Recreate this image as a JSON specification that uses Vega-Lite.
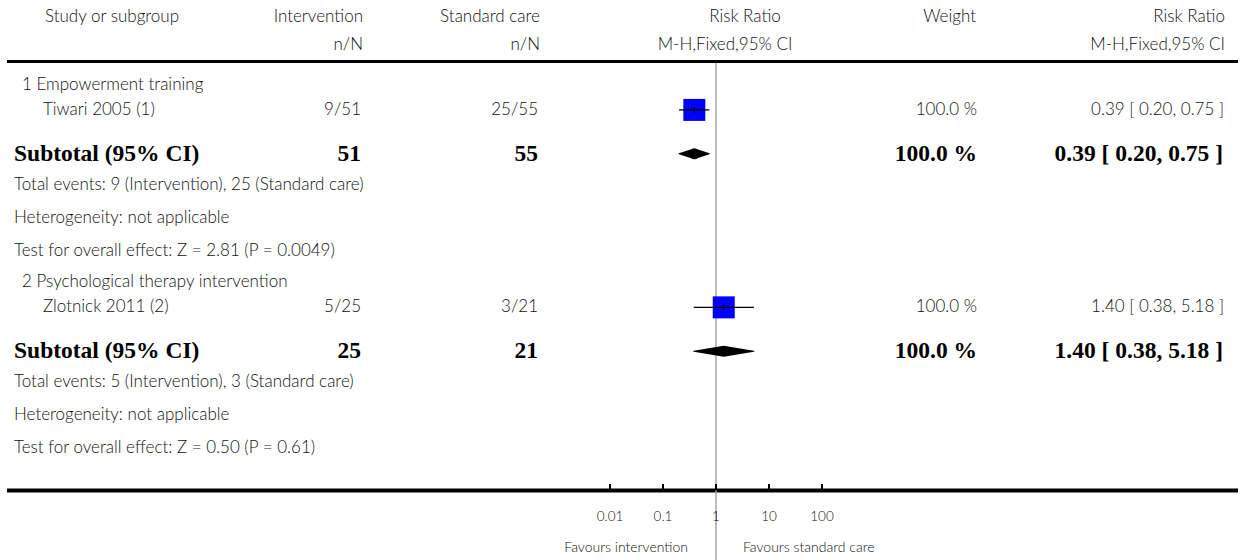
{
  "$schema": "https://vega.github.io/schema/vega-lite/v6.json",
  "width": 1241,
  "height": 560,
  "padding": 0,
  "autosize": {"type": "none"},
  "background": "white",
  "config": {"view": {"stroke": null}},
  "datasets": {
    "head": [
      {"row": 0, "col": "study", "txt": ["Study or subgroup", ""]},
      {"row": 0, "col": "int", "txt": ["Intervention", "n/N"]},
      {"row": 0, "col": "ctrl", "txt": ["Standard care", "n/N"]},
      {"row": 0, "col": "rr1", "txt": ["Risk Ratio", ""]},
      {"row": 0, "col": "rr2", "txt": ["", "M-H,Fixed,95% CI"]},
      {"row": 0, "col": "weight", "txt": ["Weight", ""]},
      {"row": 0, "col": "ci", "txt": ["Risk Ratio", "M-H,Fixed,95% CI"]}
    ],
    "rows": [
      {"row": 1, "kind": "group", "label": "1 Empowerment training"},
      {"row": 2, "kind": "study", "label": "Tiwari 2005 (1)", "int": "9/51", "ctrl": "25/55", "weight": "100.0 %", "ci": "0.39 [ 0.20, 0.75 ]", "rr": 0.39, "lo": 0.20, "hi": 0.75, "w": 100},
      {"row": 3, "kind": "subtotal", "label": "Subtotal (95% CI)", "int": "51", "ctrl": "55", "weight": "100.0 %", "ci": "0.39 [ 0.20, 0.75 ]", "rr": 0.39, "lo": 0.20, "hi": 0.75},
      {"row": 4, "kind": "note", "label": "Total events: 9 (Intervention), 25 (Standard care)"},
      {"row": 5, "kind": "note", "label": "Heterogeneity: not applicable"},
      {"row": 6, "kind": "note", "label": "Test for overall effect: Z = 2.81 (P = 0.0049)"},
      {"row": 7, "kind": "group", "label": "2 Psychological therapy intervention"},
      {"row": 8, "kind": "study", "label": "Zlotnick 2011 (2)", "int": "5/25", "ctrl": "3/21", "weight": "100.0 %", "ci": "1.40 [ 0.38, 5.18 ]", "rr": 1.40, "lo": 0.38, "hi": 5.18, "w": 100},
      {"row": 9, "kind": "subtotal", "label": "Subtotal (95% CI)", "int": "25", "ctrl": "21", "weight": "100.0 %", "ci": "1.40 [ 0.38, 5.18 ]", "rr": 1.40, "lo": 0.38, "hi": 5.18},
      {"row": 10, "kind": "note", "label": "Total events: 5 (Intervention), 3 (Standard care)"},
      {"row": 11, "kind": "note", "label": "Heterogeneity: not applicable"},
      {"row": 12, "kind": "note", "label": "Test for overall effect: Z = 0.50 (P = 0.61)"}
    ],
    "ticks": [
      {"v": 0.01, "lab": "0.01"},
      {"v": 0.1, "lab": "0.1"},
      {"v": 1, "lab": "1"},
      {"v": 10, "lab": "10"},
      {"v": 100, "lab": "100"}
    ],
    "favours": [
      {"side": "left", "txt": "Favours intervention"},
      {"side": "right", "txt": "Favours standard care"}
    ],
    "one": [{}]
  },
  "layer": [
    {
      "layer": [
        {"data": {"name": "one"},
         "mark": {"type": "rule", "color": "#000", "strokeWidth": 3},
         "encoding": {"x": {"datum": 7, "type": "quantitative", "scale": {"domain": [0, 1241], "nice": false, "zero": false}, "axis": null},
                      "x2": {"datum": 1238},
                      "y": {"datum": 0.286, "type": "quantitative", "scale": {"domain": [1, 12], "range": [85, 447], "nice": false, "zero": false}, "axis": null}}},
        {"data": {"name": "one"},
         "mark": {"type": "rule", "color": "#000", "strokeWidth": 4},
         "encoding": {"x": {"datum": 7, "type": "quantitative", "scale": {"domain": [0, 1241], "nice": false, "zero": false}, "axis": null},
                      "x2": {"datum": 1238},
                      "y": {"datum": 13.322, "type": "quantitative", "scale": {"domain": [1, 12], "range": [85, 447], "nice": false, "zero": false}, "axis": null}}},

        {"data": {"name": "head"}, "transform": [{"filter": "datum.col=='study'"}],
         "mark": {"type": "text", "align": "left", "baseline": "middle", "font": "Lato", "fontWeight": 300, "fontSize": 17, "color": "#111", "lineHeight": 28, "dy": -35},
         "encoding": {"x": {"datum": 45, "type": "quantitative", "scale": {"domain": [0, 1241], "nice": false, "zero": false}, "axis": null},
                      "y": {"field": "row", "type": "quantitative", "scale": {"domain": [1, 12], "range": [85, 447], "nice": false, "zero": false}, "axis": null},
                      "text": {"field": "txt"}}},
        {"data": {"name": "head"}, "transform": [{"filter": "datum.col=='int'"}],
         "mark": {"type": "text", "align": "right", "baseline": "middle", "font": "Lato", "fontWeight": 300, "fontSize": 17, "color": "#111", "lineHeight": 28, "dy": -35},
         "encoding": {"x": {"datum": 363, "type": "quantitative", "scale": {"domain": [0, 1241], "nice": false, "zero": false}, "axis": null},
                      "y": {"field": "row", "type": "quantitative", "scale": {"domain": [1, 12], "range": [85, 447], "nice": false, "zero": false}, "axis": null},
                      "text": {"field": "txt"}}},
        {"data": {"name": "head"}, "transform": [{"filter": "datum.col=='ctrl'"}],
         "mark": {"type": "text", "align": "right", "baseline": "middle", "font": "Lato", "fontWeight": 300, "fontSize": 17, "color": "#111", "lineHeight": 28, "dy": -35},
         "encoding": {"x": {"datum": 540, "type": "quantitative", "scale": {"domain": [0, 1241], "nice": false, "zero": false}, "axis": null},
                      "y": {"field": "row", "type": "quantitative", "scale": {"domain": [1, 12], "range": [85, 447], "nice": false, "zero": false}, "axis": null},
                      "text": {"field": "txt"}}},
        {"data": {"name": "head"}, "transform": [{"filter": "datum.col=='rr1'"}],
         "mark": {"type": "text", "align": "center", "baseline": "middle", "font": "Lato", "fontWeight": 300, "fontSize": 17, "color": "#111", "lineHeight": 28, "dy": -35},
         "encoding": {"x": {"datum": 745, "type": "quantitative", "scale": {"domain": [0, 1241], "nice": false, "zero": false}, "axis": null},
                      "y": {"field": "row", "type": "quantitative", "scale": {"domain": [1, 12], "range": [85, 447], "nice": false, "zero": false}, "axis": null},
                      "text": {"field": "txt"}}},
        {"data": {"name": "head"}, "transform": [{"filter": "datum.col=='rr2'"}],
         "mark": {"type": "text", "align": "center", "baseline": "middle", "font": "Lato", "fontWeight": 300, "fontSize": 17, "color": "#111", "lineHeight": 28, "dy": -35},
         "encoding": {"x": {"datum": 725, "type": "quantitative", "scale": {"domain": [0, 1241], "nice": false, "zero": false}, "axis": null},
                      "y": {"field": "row", "type": "quantitative", "scale": {"domain": [1, 12], "range": [85, 447], "nice": false, "zero": false}, "axis": null},
                      "text": {"field": "txt"}}},
        {"data": {"name": "head"}, "transform": [{"filter": "datum.col=='weight'"}],
         "mark": {"type": "text", "align": "right", "baseline": "middle", "font": "Lato", "fontWeight": 300, "fontSize": 17, "color": "#111", "lineHeight": 28, "dy": -35},
         "encoding": {"x": {"datum": 976, "type": "quantitative", "scale": {"domain": [0, 1241], "nice": false, "zero": false}, "axis": null},
                      "y": {"field": "row", "type": "quantitative", "scale": {"domain": [1, 12], "range": [85, 447], "nice": false, "zero": false}, "axis": null},
                      "text": {"field": "txt"}}},
        {"data": {"name": "head"}, "transform": [{"filter": "datum.col=='ci'"}],
         "mark": {"type": "text", "align": "right", "baseline": "middle", "font": "Lato", "fontWeight": 300, "fontSize": 17, "color": "#111", "lineHeight": 28, "dy": -35},
         "encoding": {"x": {"datum": 1225, "type": "quantitative", "scale": {"domain": [0, 1241], "nice": false, "zero": false}, "axis": null},
                      "y": {"field": "row", "type": "quantitative", "scale": {"domain": [1, 12], "range": [85, 447], "nice": false, "zero": false}, "axis": null},
                      "text": {"field": "txt"}}},

        {"data": {"name": "rows"}, "transform": [{"filter": "datum.kind=='group'"}],
         "mark": {"type": "text", "align": "left", "baseline": "middle", "font": "Lato", "fontWeight": 300, "fontSize": 17, "color": "#111", "dy": 0},
         "encoding": {"x": {"datum": 22, "type": "quantitative", "scale": {"domain": [0, 1241], "nice": false, "zero": false}, "axis": null},
                      "y": {"field": "row", "type": "quantitative", "scale": {"domain": [1, 12], "range": [85, 447], "nice": false, "zero": false}, "axis": null},
                      "text": {"field": "label"}}},
        {"data": {"name": "rows"}, "transform": [{"filter": "datum.kind=='study'"}],
         "mark": {"type": "text", "align": "left", "baseline": "middle", "font": "Lato", "fontWeight": 300, "fontSize": 17, "color": "#111", "dy": -8},
         "encoding": {"x": {"datum": 43, "type": "quantitative", "scale": {"domain": [0, 1241], "nice": false, "zero": false}, "axis": null},
                      "y": {"field": "row", "type": "quantitative", "scale": {"domain": [1, 12], "range": [85, 447], "nice": false, "zero": false}, "axis": null},
                      "text": {"field": "label"}}},
        {"data": {"name": "rows"}, "transform": [{"filter": "datum.kind=='study'"}],
         "mark": {"type": "text", "align": "right", "baseline": "middle", "font": "Lato", "fontWeight": 300, "fontSize": 17, "color": "#111", "dy": -8},
         "encoding": {"x": {"datum": 361, "type": "quantitative", "scale": {"domain": [0, 1241], "nice": false, "zero": false}, "axis": null},
                      "y": {"field": "row", "type": "quantitative", "scale": {"domain": [1, 12], "range": [85, 447], "nice": false, "zero": false}, "axis": null},
                      "text": {"field": "int"}}},
        {"data": {"name": "rows"}, "transform": [{"filter": "datum.kind=='study'"}],
         "mark": {"type": "text", "align": "right", "baseline": "middle", "font": "Lato", "fontWeight": 300, "fontSize": 17, "color": "#111", "dy": -8},
         "encoding": {"x": {"datum": 538, "type": "quantitative", "scale": {"domain": [0, 1241], "nice": false, "zero": false}, "axis": null},
                      "y": {"field": "row", "type": "quantitative", "scale": {"domain": [1, 12], "range": [85, 447], "nice": false, "zero": false}, "axis": null},
                      "text": {"field": "ctrl"}}},
        {"data": {"name": "rows"}, "transform": [{"filter": "datum.kind=='study'"}],
         "mark": {"type": "text", "align": "right", "baseline": "middle", "font": "Lato", "fontWeight": 300, "fontSize": 17, "color": "#111", "dy": -8},
         "encoding": {"x": {"datum": 977, "type": "quantitative", "scale": {"domain": [0, 1241], "nice": false, "zero": false}, "axis": null},
                      "y": {"field": "row", "type": "quantitative", "scale": {"domain": [1, 12], "range": [85, 447], "nice": false, "zero": false}, "axis": null},
                      "text": {"field": "weight"}}},
        {"data": {"name": "rows"}, "transform": [{"filter": "datum.kind=='study'"}],
         "mark": {"type": "text", "align": "right", "baseline": "middle", "font": "Lato", "fontWeight": 300, "fontSize": 17, "color": "#111", "dy": -8},
         "encoding": {"x": {"datum": 1224, "type": "quantitative", "scale": {"domain": [0, 1241], "nice": false, "zero": false}, "axis": null},
                      "y": {"field": "row", "type": "quantitative", "scale": {"domain": [1, 12], "range": [85, 447], "nice": false, "zero": false}, "axis": null},
                      "text": {"field": "ci"}}},
        {"data": {"name": "rows"}, "transform": [{"filter": "datum.kind=='note'"}],
         "mark": {"type": "text", "align": "left", "baseline": "middle", "font": "Lato", "fontWeight": 300, "fontSize": 17, "color": "#111", "dy": 1},
         "encoding": {"x": {"datum": 14, "type": "quantitative", "scale": {"domain": [0, 1241], "nice": false, "zero": false}, "axis": null},
                      "y": {"field": "row", "type": "quantitative", "scale": {"domain": [1, 12], "range": [85, 447], "nice": false, "zero": false}, "axis": null},
                      "text": {"field": "label"}}},
        {"data": {"name": "rows"}, "transform": [{"filter": "datum.kind=='subtotal'"}],
         "mark": {"type": "text", "align": "left", "baseline": "middle", "font": "Liberation Serif", "fontWeight": "bold", "fontSize": 23.5, "color": "#000", "dy": 3},
         "encoding": {"x": {"datum": 14, "type": "quantitative", "scale": {"domain": [0, 1241], "nice": false, "zero": false}, "axis": null},
                      "y": {"field": "row", "type": "quantitative", "scale": {"domain": [1, 12], "range": [85, 447], "nice": false, "zero": false}, "axis": null},
                      "text": {"field": "label"}}},
        {"data": {"name": "rows"}, "transform": [{"filter": "datum.kind=='subtotal'"}],
         "mark": {"type": "text", "align": "right", "baseline": "middle", "font": "Liberation Serif", "fontWeight": "bold", "fontSize": 23.5, "color": "#000", "dy": 3},
         "encoding": {"x": {"datum": 361, "type": "quantitative", "scale": {"domain": [0, 1241], "nice": false, "zero": false}, "axis": null},
                      "y": {"field": "row", "type": "quantitative", "scale": {"domain": [1, 12], "range": [85, 447], "nice": false, "zero": false}, "axis": null},
                      "text": {"field": "int"}}},
        {"data": {"name": "rows"}, "transform": [{"filter": "datum.kind=='subtotal'"}],
         "mark": {"type": "text", "align": "right", "baseline": "middle", "font": "Liberation Serif", "fontWeight": "bold", "fontSize": 23.5, "color": "#000", "dy": 3},
         "encoding": {"x": {"datum": 538, "type": "quantitative", "scale": {"domain": [0, 1241], "nice": false, "zero": false}, "axis": null},
                      "y": {"field": "row", "type": "quantitative", "scale": {"domain": [1, 12], "range": [85, 447], "nice": false, "zero": false}, "axis": null},
                      "text": {"field": "ctrl"}}},
        {"data": {"name": "rows"}, "transform": [{"filter": "datum.kind=='subtotal'"}],
         "mark": {"type": "text", "align": "right", "baseline": "middle", "font": "Liberation Serif", "fontWeight": "bold", "fontSize": 23.5, "color": "#000", "dy": 3},
         "encoding": {"x": {"datum": 977, "type": "quantitative", "scale": {"domain": [0, 1241], "nice": false, "zero": false}, "axis": null},
                      "y": {"field": "row", "type": "quantitative", "scale": {"domain": [1, 12], "range": [85, 447], "nice": false, "zero": false}, "axis": null},
                      "text": {"field": "weight"}}},
        {"data": {"name": "rows"}, "transform": [{"filter": "datum.kind=='subtotal'"}],
         "mark": {"type": "text", "align": "right", "baseline": "middle", "font": "Liberation Serif", "fontWeight": "bold", "fontSize": 23.5, "color": "#000", "dy": 3},
         "encoding": {"x": {"datum": 1223, "type": "quantitative", "scale": {"domain": [0, 1241], "nice": false, "zero": false}, "axis": null},
                      "y": {"field": "row", "type": "quantitative", "scale": {"domain": [1, 12], "range": [85, 447], "nice": false, "zero": false}, "axis": null},
                      "text": {"field": "ci"}}}
      ]
    },
    {
      "layer": [
        {"data": {"name": "one"},
         "mark": {"type": "rule", "color": "#a6a6a6", "strokeWidth": 1.5},
         "encoding": {"x": {"datum": 1, "type": "quantitative", "scale": {"type": "log", "domain": [0.01, 100], "range": [610, 822], "nice": false}, "axis": null},
                      "y": {"datum": 0.33, "type": "quantitative", "scale": {"domain": [1, 12], "range": [85, 447], "nice": false, "zero": false}, "axis": null},
                      "y2": {"datum": 15.5}}},
        {"data": {"name": "ticks"},
         "mark": {"type": "rule", "color": "#000", "strokeWidth": 2},
         "encoding": {"x": {"field": "v", "type": "quantitative", "scale": {"type": "log", "domain": [0.01, 100], "range": [610, 822], "nice": false}, "axis": null},
                      "y": {"datum": 13.124, "type": "quantitative", "scale": {"domain": [1, 12], "range": [85, 447], "nice": false, "zero": false}, "axis": null},
                      "y2": {"datum": 13.322}}},
        {"data": {"name": "ticks"},
         "mark": {"type": "text", "align": "center", "baseline": "middle", "font": "Lato", "fontWeight": 300, "fontSize": 13.5, "color": "#111"},
         "encoding": {"x": {"field": "v", "type": "quantitative", "scale": {"type": "log", "domain": [0.01, 100], "range": [610, 822], "nice": false}, "axis": null},
                      "y": {"datum": 14.127, "type": "quantitative", "scale": {"domain": [1, 12], "range": [85, 447], "nice": false, "zero": false}, "axis": null},
                      "text": {"field": "lab"}}},
        {"data": {"name": "favours"}, "transform": [{"filter": "datum.side=='left'"}],
         "mark": {"type": "text", "align": "right", "baseline": "middle", "font": "Lato", "fontWeight": 300, "fontSize": 14, "color": "#111", "dx": -28},
         "encoding": {"x": {"datum": 1, "type": "quantitative", "scale": {"type": "log", "domain": [0.01, 100], "range": [610, 822], "nice": false}, "axis": null},
                      "y": {"datum": 15.07, "type": "quantitative", "scale": {"domain": [1, 12], "range": [85, 447], "nice": false, "zero": false}, "axis": null},
                      "text": {"field": "txt"}}},
        {"data": {"name": "favours"}, "transform": [{"filter": "datum.side=='right'"}],
         "mark": {"type": "text", "align": "left", "baseline": "middle", "font": "Lato", "fontWeight": 300, "fontSize": 14, "color": "#111", "dx": 27},
         "encoding": {"x": {"datum": 1, "type": "quantitative", "scale": {"type": "log", "domain": [0.01, 100], "range": [610, 822], "nice": false}, "axis": null},
                      "y": {"datum": 15.07, "type": "quantitative", "scale": {"domain": [1, 12], "range": [85, 447], "nice": false, "zero": false}, "axis": null},
                      "text": {"field": "txt"}}},
        {"data": {"name": "rows"}, "transform": [{"filter": "datum.kind=='study'"}],
         "mark": {"type": "square", "filled": true, "color": "#0000ff", "opacity": 1, "yOffset": -8},
         "encoding": {"x": {"field": "rr", "type": "quantitative", "scale": {"type": "log", "domain": [0.01, 100], "range": [610, 822], "nice": false}, "axis": null},
                      "y": {"field": "row", "type": "quantitative", "scale": {"domain": [1, 12], "range": [85, 447], "nice": false, "zero": false}, "axis": null},
                      "size": {"field": "w", "type": "quantitative", "scale": {"domain": [0, 100], "range": [0, 484]}, "legend": null}}},
        {"data": {"name": "rows"}, "transform": [{"filter": "datum.kind=='study'"}],
         "mark": {"type": "rule", "color": "#000", "strokeWidth": 1.3, "yOffset": -8},
         "encoding": {"x": {"field": "lo", "type": "quantitative", "scale": {"type": "log", "domain": [0.01, 100], "range": [610, 822], "nice": false}, "axis": null},
                      "x2": {"field": "hi"},
                      "y": {"field": "row", "type": "quantitative", "scale": {"domain": [1, 12], "range": [85, 447], "nice": false, "zero": false}, "axis": null}}},
        {"data": {"name": "rows"}, "transform": [{"filter": "datum.kind=='study'"}],
         "mark": {"type": "point", "shape": "M0,-1V1", "filled": false, "stroke": "#000", "strokeWidth": 1.3, "size": 30, "opacity": 1, "yOffset": -8},
         "encoding": {"x": {"field": "rr", "type": "quantitative", "scale": {"type": "log", "domain": [0.01, 100], "range": [610, 822], "nice": false}, "axis": null},
                      "y": {"field": "row", "type": "quantitative", "scale": {"domain": [1, 12], "range": [85, 447], "nice": false, "zero": false}, "axis": null}}},
        {"data": {"name": "rows"}, "transform": [{"filter": "datum.kind=='subtotal'"}, {"fold": ["lo", "rr", "hi"], "as": ["pt", "xv"]}],
         "mark": {"type": "trail", "color": "#000", "yOffset": 3},
         "encoding": {"x": {"field": "xv", "type": "quantitative", "scale": {"type": "log", "domain": [0.01, 100], "range": [610, 822], "nice": false}, "axis": null},
                      "y": {"field": "row", "type": "quantitative", "scale": {"domain": [1, 12], "range": [85, 447], "nice": false, "zero": false}, "axis": null},
                      "detail": {"field": "row", "type": "nominal"},
                      "order": {"field": "xv", "type": "quantitative"},
                      "size": {"condition": {"test": "datum.pt=='rr'", "value": 11}, "value": 0}}}
      ]
    }
  ],
  "resolve": {"scale": {"x": "independent"}}
}
